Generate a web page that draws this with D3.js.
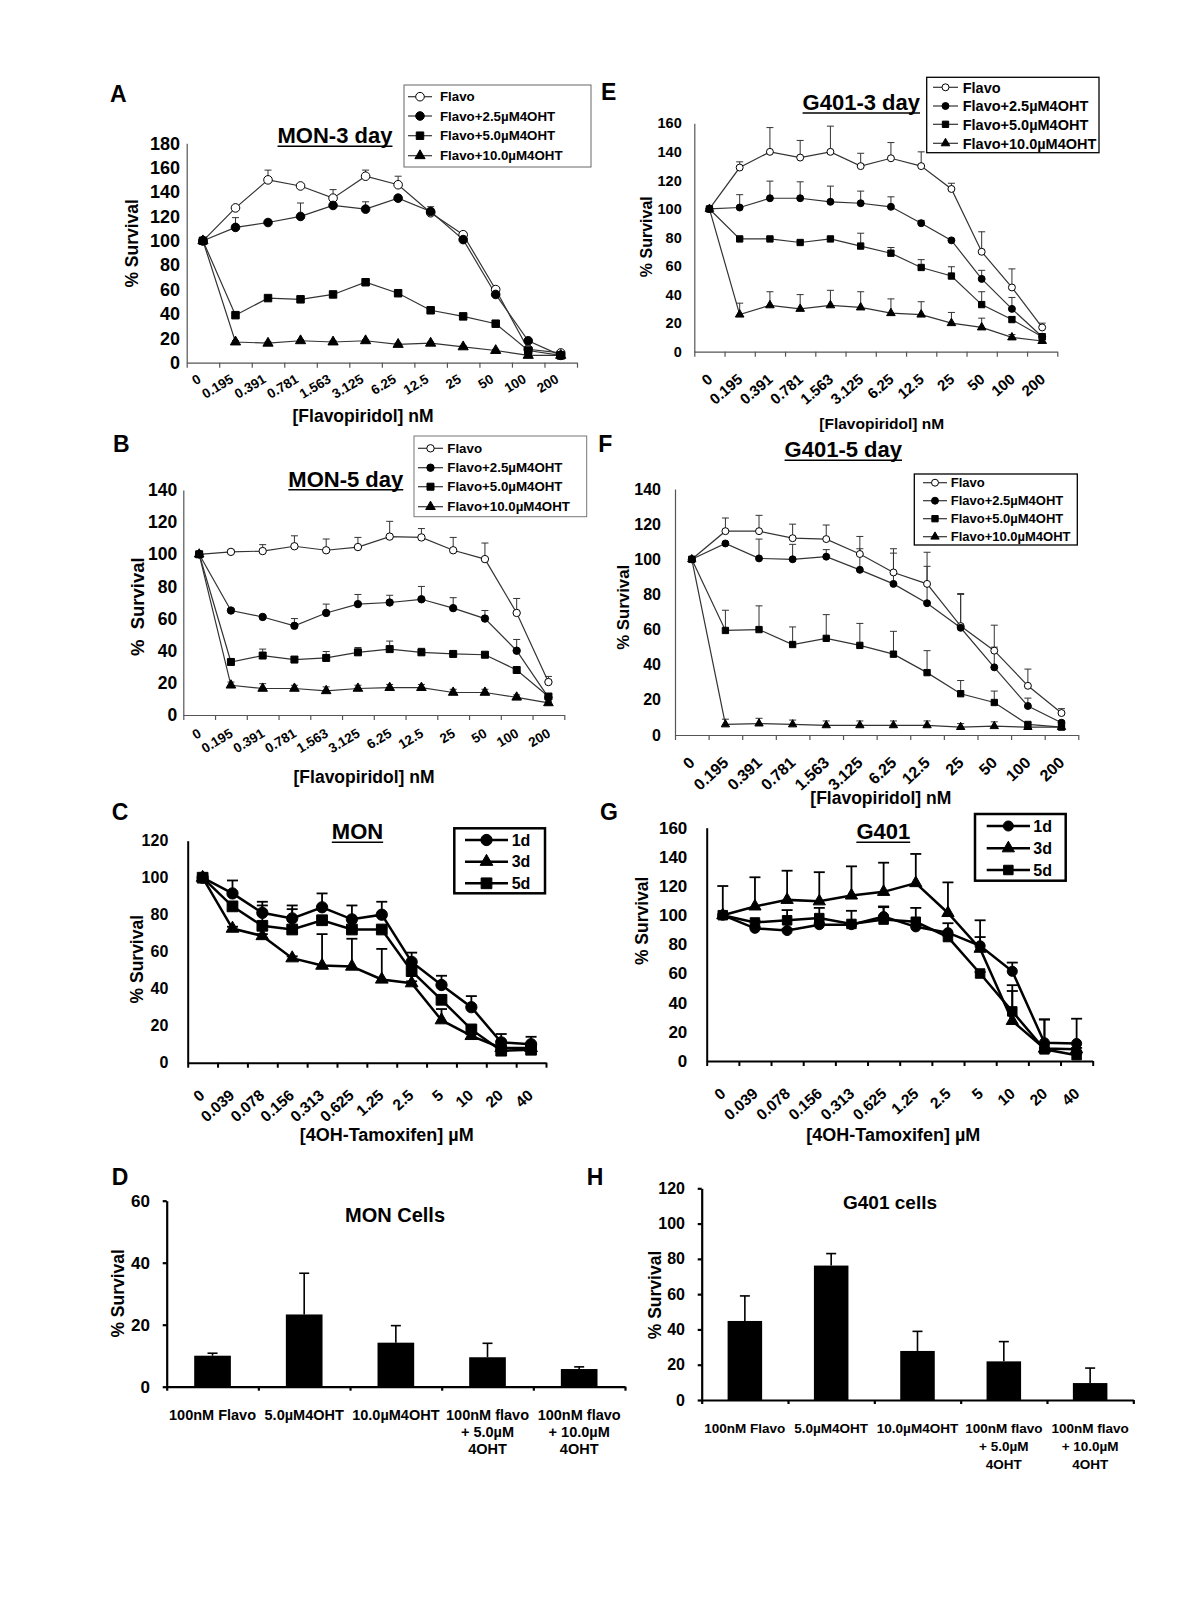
<!DOCTYPE html>
<html><head><meta charset="utf-8">
<script src="https://cdn.jsdelivr.net/npm/d3@7"></script>
<style>
html,body{margin:0;padding:0;background:#fff;}
svg{display:block;}
</style></head><body>
<svg id="fig" width="1200" height="1600"></svg>
<script>
// ---------------- DATA ----------------
const flavoDoses = ["0","0.195","0.391","0.781","1.563","3.125","6.25","12.5","25","50","100","200"];
const tamDoses = ["0","0.039","0.078","0.156","0.313","0.625","1.25","2.5","5","10","20","40"];
const flavoSeriesNames = ["Flavo","Flavo+2.5µM4OHT","Flavo+5.0µM4OHT","Flavo+10.0µM4OHT"];
const flavoSeriesMarks = ["openCircle","circle","square","triangle"];
const daySeriesNames = ["1d","3d","5d"];
const daySeriesMarks = ["circle","triangle","square"];
const yTickStep = 20;

// A: MON 3 day
const monD3Flavo     = [100,127,150,145,135,153,146,123,105,60,11,8];
const monD3FlavoErr  = [0,2,8,2,7,5,7,3,2,2,2,1];
const monD3F25       = [100,111,115,120,129,126,135,124,101,56,18,6];
const monD3F25Err    = [0,8,2,11,2,6,2,4,1,1,1,1];
const monD3F50       = [100,39,53,52,56,66,57,43,38,32,10,6];
const monD3F50Err    = [0,2,2,2,2,2,2,1,1,1,1,1];
const monD3F100      = [100,17,16,18,17,18,15,16,13,10,6,6];
const monD3F100Err   = [0,1,1,1,1,1,1,1,1,1,1,1];

// E: G401 3 day
const g4D3Flavo    = [100,129,140,136,140,130,135.5,130,114,70,45,17];
const g4D3FlavoErr = [0,4,17,12,18,9,11,10,4,14,13,3];
const g4D3F25      = [100,101,107.5,107.5,105,104,101.5,90,78,51,30,10.5];
const g4D3F25Err   = [0,9,12,11.5,11,8.5,7,2,1,6,8,2];
const g4D3F50      = [100,79,79,76.5,79,74,69,59,53,33,22.5,10.5];
const g4D3F50Err   = [0,1,1,1,1,9,4,5.5,6.5,9,2,1];
const g4D3F100     = [100,26,32.5,30,32.5,31,27,26,20,17,10,7.5];
const g4D3F100Err  = [0,8,9.5,10,10.5,11,10,9,7.5,6.5,2,1];

// B: MON 5 day
const monD5Flavo    = [100,101.5,102,105,102.5,104.5,111,110.5,102.5,97,63.5,20.5];
const monD5FlavoErr = [0,1,4,6.5,7,6,9.5,5.5,8,10,9,3.5];
const monD5F25      = [100,65,61,55.5,63.5,69,70,72,66.5,60,40,11];
const monD5F25Err   = [0,1,1,4.5,5.5,6,4.5,8,6.5,5,7,1];
const monD5F50      = [100,33,37,34.5,35.5,39,41,39,38,37.5,28,11.5];
const monD5F50Err   = [0,1,4,1,4,3,5,2.5,1,1,1,1];
const monD5F100     = [100,18.5,16.5,16.5,15,16.5,17,17,14,14,11,7.5];
const monD5F100Err  = [0,2,3,2,2.5,2,2,2,2,2,1.5,1];

// F: G401 5 day
const g4D5Flavo    = [100,116,116,112,111.5,103,92.5,86,62,48,28,12.5];
const g4D5FlavoErr = [0,7.5,9,8,8,10,13.5,18,18,14.5,9.5,2.5];
const g4D5F25      = [100,109,100.5,100,101.5,94,86,75,61,38.5,16.5,7];
const g4D5F25Err   = [0,0,11,8.5,4,12,17.5,21,19.5,11.5,4.5,1];
const g4D5F50      = [100,59.5,60,51.5,55,51,46,35.5,23.5,18.5,6,4.5];
const g4D5F50Err   = [0,11.5,13.5,10,13.5,12.5,13,12.5,7.5,6.5,1,0.5];
const g4D5F100     = [100,6,6.5,6,5.5,5.5,5.5,5.5,4.5,5,4.5,4.5];
const g4D5F100Err  = [0,3,3,2.5,2.5,2.5,2.5,2.5,2,2.5,1,1];

// C: MON tamoxifen
const monTam1d    = [100,91.5,81,78,84,77.5,80,54.5,42,30,11,10];
const monTam1dErr = [0,7,6,7,7.5,7.5,7,5,5,6,4.5,4];
const monTam3d    = [100,72.5,68.5,56.5,52.5,52,45,43,23,14.5,8,8];
const monTam3dErr = [0,1,1,1,17,15,16.5,1,6,1,1,1];
const monTam5d    = [100,84.5,74,72,77,72,72,49.5,34,18,6.5,7];
const monTam5dErr = [0,1,11,11,1,1,1,1,1,1,1,1];

// G: G401 tamoxifen
const g4Tam1d    = [100,91,89.5,93.5,93.5,99,92,88,79,61.5,12.5,12];
const g4Tam1dErr = [0,1,1,1,1,7,1,6.5,6,6,16,17];
const g4Tam3d    = [100,106,110.5,109.5,113.5,116,122,101.5,77,27.5,8.5,8];
const g4Tam3dErr = [20,20,20,20,20,20,20,21,19.5,20.5,20,1];
const g4Tam5d    = [100,95,96.5,98,94,97,95.5,85,60,34,8,4];
const g4Tam5dErr = [0,1,7,7,9,8.5,9.5,1,1,18,1,1];

// D / H: single treatments
const barCategories = [["100nM Flavo"],["5.0µM4OHT"],["10.0µM4OHT"],["100nM flavo","+ 5.0µM","4OHT"],["100nM flavo","+ 10.0µM","4OHT"]];
const monCellsVals = [10,23.3,14.2,9.5,5.7];
const monCellsErr  = [0.8,13.3,5.5,4.5,0.7];
const g401CellsVals = [44.8,76.2,27.8,21.9,9.6];
const g401CellsErr  = [14.2,6.8,11.1,11.2,8.5];

// ---------------- DRAWING ----------------
const FONT = '"Liberation Sans", Arial, Helvetica, sans-serif';
const svg = d3.select("#fig");

function txt(g, s, x, y, size, anchor) {
  return g.append("text").attr("x", x).attr("y", y).attr("font-size", size)
    .attr("font-family", FONT).attr("font-weight", "bold").attr("fill", "#000")
    .attr("text-anchor", anchor || "start").text(s);
}

function symbolPath(type, sizes) {
  const t = type === "square" ? d3.symbolSquare : type === "triangle" ? d3.symbolTriangle : d3.symbolCircle;
  const key = type === "openCircle" ? "circle" : type;
  return d3.symbol().type(t).size(sizes[key])();
}

function styleAxis(a, c, fontSize) {
  a.attr("font-family", null).attr("font-size", null);
  a.selectAll("path,line").attr("stroke", c.axisColor).attr("stroke-width", c.axisW);
  a.selectAll("text").attr("font-size", fontSize).attr("font-family", FONT)
    .attr("font-weight", "bold").attr("fill", "#000");
}

function yTitle(g, s, x, y, size) {
  g.append("text").attr("transform", `translate(${x},${y}) rotate(-90)`)
    .attr("text-anchor", "middle").attr("dy", "0.35em")
    .attr("font-size", size).attr("font-family", FONT).attr("font-weight", "bold").text(s);
}

function underlinedTitle(g, s, x, y, size, uw) {
  const t = txt(g, s, x, y, size, "middle");
  const w = t.node().getComputedTextLength();
  g.append("line").attr("x1", x - w / 2).attr("x2", x + w / 2)
    .attr("y1", y + 3).attr("y2", y + 3).attr("stroke", "#000").attr("stroke-width", uw || 1.6);
}

function linePanel(c) {
  const g = svg.append("g");
  const x = d3.scaleBand().domain(c.cats).range([c.x0, c.x1]);
  const cx = d => x(d) + x.bandwidth() / 2;
  const y = d3.scaleLinear().domain([0, c.yMax]).range([c.y0, c.yTop]);

  const ya = g.append("g").attr("transform", `translate(${c.x0},0)`)
    .call(d3.axisLeft(y).tickValues(d3.range(0, c.yMax + 0.001, yTickStep))
      .tickSizeInner(c.yTickLen).tickSizeOuter(0).tickPadding(c.x0 - c.yLabelRight - c.yTickLen));
  styleAxis(ya, c, c.yFont);
  const xi = d3.scaleLinear().domain([0, c.cats.length]).range([c.x0, c.x1]);
  const xa = g.append("g").attr("transform", `translate(0,${c.y0})`)
    .call(d3.axisBottom(xi).tickValues(d3.range(0, c.cats.length + 1)).tickFormat("")
      .tickSizeInner(c.xTickLen).tickSizeOuter(0));
  styleAxis(xa, c, 10);
  g.selectAll(null).data(c.cats).join("text")
    .attr("transform", d => `translate(${cx(d) + c.xDx},${c.y0 + c.xDy}) rotate(${c.xAngle})`)
    .attr("text-anchor", "end").attr("font-size", c.xFont).attr("font-family", FONT)
    .attr("font-weight", "bold").text(d => d);

  c.series.forEach(s => {
    s.vals.forEach((v, i) => {
      const e = s.errs[i];
      if (!e) return;
      const px = cx(c.cats[i]);
      g.append("line").attr("x1", px).attr("x2", px).attr("y1", y(v)).attr("y2", y(v + e))
        .attr("stroke", c.lineColor).attr("stroke-width", c.errW);
      g.append("line").attr("x1", px - c.capW / 2).attr("x2", px + c.capW / 2)
        .attr("y1", y(v + e)).attr("y2", y(v + e))
        .attr("stroke", c.lineColor).attr("stroke-width", c.errW);
    });
  });
  const line = d3.line().x((v, i) => cx(c.cats[i])).y(v => y(v));
  c.series.forEach(s => {
    g.append("path").attr("d", line(s.vals)).attr("fill", "none")
      .attr("stroke", c.lineColor).attr("stroke-width", c.lineW);
  });
  c.series.forEach(s => {
    g.selectAll(null).data(s.vals).join("path")
      .attr("transform", (v, i) => `translate(${cx(c.cats[i])},${y(v)})`)
      .attr("d", symbolPath(s.mark, c.sizes))
      .attr("fill", s.mark === "openCircle" ? "#fff" : "#000")
      .attr("stroke", "#000").attr("stroke-width", c.markSW);
  });

  const L = c.legend;
  g.append("rect").attr("x", L.x).attr("y", L.y).attr("width", L.w).attr("height", L.h)
    .attr("fill", "#fff").attr("stroke", L.stroke).attr("stroke-width", L.sw);
  c.series.forEach((s, i) => {
    const ry = L.rowY[i];
    g.append("line").attr("x1", L.lx0).attr("x2", L.lx1).attr("y1", ry).attr("y2", ry)
      .attr("stroke", c.lineColor).attr("stroke-width", c.lineW);
    g.append("path").attr("transform", `translate(${(L.lx0 + L.lx1) / 2},${ry})`)
      .attr("d", symbolPath(s.mark, c.sizes))
      .attr("fill", s.mark === "openCircle" ? "#fff" : "#000")
      .attr("stroke", "#000").attr("stroke-width", c.markSW);
    txt(g, s.name, L.tx, ry, L.font).attr("dy", "0.36em");
  });

  txt(g, c.label, c.labelX, c.labelY, 23);
  underlinedTitle(g, c.title, c.titleX, c.titleY, c.titleFont);
  yTitle(g, c.yTitle, c.yTitleX, c.yTitleY, c.yTitleFont);
  txt(g, c.xTitle, c.xTitleX, c.xTitleY, c.xTitleFont, "middle");
}

function barPanel(c) {
  const g = svg.append("g");
  const keys = c.cats.map((d, i) => i);
  const x = d3.scaleBand().domain(keys).range([c.x0, c.x1]);
  const y = d3.scaleLinear().domain([0, c.yMax]).range([c.y0, c.yTop]);
  const ya = g.append("g").attr("transform", `translate(${c.x0},0)`)
    .call(d3.axisLeft(y).tickValues(d3.range(0, c.yMax + 0.001, yTickStep))
      .tickSizeInner(c.yTickLen).tickSizeOuter(0).tickPadding(c.x0 - c.yLabelRight - c.yTickLen));
  styleAxis(ya, c, c.yFont);
  const xi = d3.scaleLinear().domain([0, keys.length]).range([c.x0, c.x1]);
  const xa = g.append("g").attr("transform", `translate(0,${c.y0})`)
    .call(d3.axisBottom(xi).tickValues(d3.range(0, keys.length + 1)).tickFormat("")
      .tickSizeInner(c.xTickLen).tickSizeOuter(0));
  styleAxis(xa, c, 10);

  const bw = x.bandwidth() * c.barFrac;
  keys.forEach(i => {
    const mx = x(i) + x.bandwidth() / 2;
    const v = c.vals[i], e = c.errs[i];
    g.append("line").attr("x1", mx).attr("x2", mx).attr("y1", y(v)).attr("y2", y(v + e))
      .attr("stroke", "#000").attr("stroke-width", 1.6);
    g.append("line").attr("x1", mx - c.capW / 2).attr("x2", mx + c.capW / 2)
      .attr("y1", y(v + e)).attr("y2", y(v + e)).attr("stroke", "#000").attr("stroke-width", 1.6);
    g.append("rect").attr("x", mx - bw / 2).attr("y", y(v)).attr("width", bw)
      .attr("height", y(0) - y(v)).attr("fill", "#000");
    c.cats[i].forEach((ln, j) => txt(g, ln, mx, c.catY[j], c.catFont, "middle"));
  });

  txt(g, c.label, c.labelX, c.labelY, 23);
  txt(g, c.title, c.titleX, c.titleY, c.titleFont, "middle");
  yTitle(g, c.yTitle, c.yTitleX, c.yTitleY, c.yTitleFont);
}

function mkSeries(names, marks, vals, errs) {
  return names.map((n, i) => ({ name: n, mark: marks[i], vals: vals[i], errs: errs[i] }));
}

const thinStyle = { axisColor: "#555", axisW: 1.2, lineColor: "#333", lineW: 1.2, errW: 1, capW: 7, markSW: 1, yTickLen: 0, xTickLen: 5 };
const thickStyle = { axisColor: "#000", axisW: 2, lineColor: "#000", lineW: 2.5, errW: 1.8, capW: 11, markSW: 1, yTickLen: 0, xTickLen: 5 };

// A
linePanel(Object.assign({}, thinStyle, {
  label: "A", labelX: 110, labelY: 102,
  cats: flavoDoses,
  series: mkSeries(flavoSeriesNames, flavoSeriesMarks,
    [monD3Flavo, monD3F25, monD3F50, monD3F100], [monD3FlavoErr, monD3F25Err, monD3F50Err, monD3F100Err]),
  yMax: 180, x0: 186.7, x1: 577, y0: 362.7, yTop: 143.3,
  yFont: 18, yLabelRight: 180,
  xFont: 13.5, xDx: -1, xDy: 19, xAngle: -31,
  sizes: { circle: 58, square: 56, triangle: 45 },
  title: "MON-3 day", titleX: 335, titleY: 143.3, titleFont: 22,
  legend: { x: 404, y: 85, w: 187, h: 82, rowY: [96.7, 116, 135.7, 155.7], lx0: 408, lx1: 432, tx: 440, font: 13.3, stroke: "#666", sw: 1 },
  yTitle: "% Survival", yTitleX: 131.7, yTitleY: 243.3, yTitleFont: 17.5,
  xTitle: "[Flavopiridol] nM", xTitleX: 363, xTitleY: 422, xTitleFont: 17.5
}));

// E
linePanel(Object.assign({}, thinStyle, {
  label: "E", labelX: 601, labelY: 100,
  cats: flavoDoses,
  series: mkSeries(flavoSeriesNames, flavoSeriesMarks,
    [g4D3Flavo, g4D3F25, g4D3F50, g4D3F100], [g4D3FlavoErr, g4D3F25Err, g4D3F50Err, g4D3F100Err]),
  yMax: 160, x0: 694.3, x1: 1057.3, y0: 351.7, yTop: 123.3,
  yFont: 14.5, yLabelRight: 681.7,
  xFont: 15, xDx: 4, xDy: 29, xAngle: -41,
  sizes: { circle: 38, square: 40, triangle: 32 },
  title: "G401-3 day", titleX: 861.3, titleY: 110, titleFont: 22,
  legend: { x: 926.7, y: 77.3, w: 172.3, h: 75.4, rowY: [87.3, 106, 124.3, 143.3], lx0: 933, lx1: 958, tx: 962.7, font: 14.5, stroke: "#000", sw: 1.3 },
  yTitle: "% Survival", yTitleX: 646.7, yTitleY: 236.7, yTitleFont: 16,
  xTitle: "[Flavopiridol] nM", xTitleX: 881.7, xTitleY: 428.7, xTitleFont: 15.5
}));

// B
linePanel(Object.assign({}, thinStyle, {
  label: "B", labelX: 113, labelY: 452,
  cats: flavoDoses,
  series: mkSeries(flavoSeriesNames, flavoSeriesMarks,
    [monD5Flavo, monD5F25, monD5F50, monD5F100], [monD5FlavoErr, monD5F25Err, monD5F50Err, monD5F100Err]),
  yMax: 140, x0: 183.3, x1: 564.3, y0: 715, yTop: 490,
  yFont: 17.5, yLabelRight: 177.3,
  xFont: 13.5, xDx: 3, xDy: 21, xAngle: -31,
  sizes: { circle: 43, square: 49, triangle: 40 },
  title: "MON-5 day", titleX: 345.8, titleY: 486.7, titleFont: 22,
  legend: { x: 414, y: 436, w: 172.7, h: 80.7, rowY: [448.3, 467.7, 486.7, 506.7], lx0: 418, lx1: 443, tx: 447.3, font: 13.3, stroke: "#777", sw: 1 },
  yTitle: "%\u00a0\u00a0Survival", yTitleX: 138, yTitleY: 606.7, yTitleFont: 18.5,
  xTitle: "[Flavopiridol] nM", xTitleX: 364, xTitleY: 782.5, xTitleFont: 17.5
}));

// F
linePanel(Object.assign({}, thinStyle, {
  label: "F", labelX: 598.3, labelY: 452,
  cats: flavoDoses,
  series: mkSeries(flavoSeriesNames, flavoSeriesMarks,
    [g4D5Flavo, g4D5F25, g4D5F50, g4D5F100], [g4D5FlavoErr, g4D5F25Err, g4D5F50Err, g4D5F100Err]),
  yMax: 140, x0: 675, x1: 1078.3, y0: 735, yTop: 489,
  yFont: 16, yLabelRight: 661,
  xFont: 16, xDx: 4, xDy: 29, xAngle: -43,
  sizes: { circle: 38, square: 40, triangle: 30 },
  title: "G401-5 day", titleX: 843.3, titleY: 457.3, titleFont: 22,
  legend: { x: 914.3, y: 474, w: 163, h: 71, rowY: [482.7, 500.7, 518.7, 536.7], lx0: 923, lx1: 947, tx: 950.7, font: 13, stroke: "#000", sw: 1.3 },
  yTitle: "% Survival", yTitleX: 623.3, yTitleY: 607.3, yTitleFont: 16.8,
  xTitle: "[Flavopiridol] nM", xTitleX: 880.8, xTitleY: 804, xTitleFont: 17.5
}));

// C
linePanel(Object.assign({}, thickStyle, {
  label: "C", labelX: 111.7, labelY: 820,
  cats: tamDoses,
  series: mkSeries(daySeriesNames, daySeriesMarks,
    [monTam1d, monTam3d, monTam5d], [monTam1dErr, monTam3dErr, monTam5dErr]),
  yMax: 120, x0: 187.7, x1: 546, y0: 1062.7, yTop: 840.7,
  yFont: 16, yLabelRight: 168.3,
  xFont: 15.5, xDx: 3, xDy: 34, xAngle: -42,
  sizes: { circle: 100, square: 115, triangle: 70 },
  title: "MON", titleX: 357.5, titleY: 839.3, titleFont: 22,
  legend: { x: 454.3, y: 828.3, w: 90.7, h: 65, rowY: [840, 861.7, 883.3], lx0: 465, lx1: 508, tx: 511.7, font: 16, stroke: "#000", sw: 2.5 },
  yTitle: "% Survival", yTitleX: 136.7, yTitleY: 959.2, yTitleFont: 17.5,
  xTitle: "[4OH-Tamoxifen] µM", xTitleX: 386.7, xTitleY: 1141, xTitleFont: 18
}));

// G
linePanel(Object.assign({}, thickStyle, {
  label: "G", labelX: 600, labelY: 820,
  cats: tamDoses,
  series: mkSeries(daySeriesNames, daySeriesMarks,
    [g4Tam1d, g4Tam3d, g4Tam5d], [g4Tam1dErr, g4Tam3dErr, g4Tam5dErr]),
  yMax: 160, x0: 706.7, x1: 1092.7, y0: 1061, yTop: 827.7,
  yFont: 17, yLabelRight: 687.3,
  xFont: 15.5, xDx: 4, xDy: 34, xAngle: -42,
  sizes: { circle: 80, square: 90, triangle: 65 },
  title: "G401", titleX: 883.3, titleY: 839.3, titleFont: 22,
  legend: { x: 975, y: 814, w: 90.7, h: 66.7, rowY: [826, 848.3, 870], lx0: 986.7, lx1: 1030, tx: 1033.3, font: 16, stroke: "#000", sw: 2.5 },
  yTitle: "% Survival", yTitleX: 641.7, yTitleY: 920.8, yTitleFont: 17.5,
  xTitle: "[4OH-Tamoxifen] µM", xTitleX: 893.3, xTitleY: 1141, xTitleFont: 18
}));

// D
barPanel({
  axisColor: "#000", axisW: 2.2, yTickLen: 4, xTickLen: 4, capW: 10, barFrac: 0.4,
  label: "D", labelX: 111.7, labelY: 1185,
  cats: barCategories, vals: monCellsVals, errs: monCellsErr,
  yMax: 60, x0: 166.7, x1: 625, y0: 1386.7, yTop: 1200.7,
  yFont: 17, yLabelRight: 150,
  title: "MON Cells", titleX: 395, titleY: 1221.7, titleFont: 20,
  catY: [1420, 1437, 1454], catFont: 14.5,
  yTitle: "% Survival", yTitleX: 118.3, yTitleY: 1293.3, yTitleFont: 17.5
});

// H
barPanel({
  axisColor: "#000", axisW: 2.2, yTickLen: 4, xTickLen: 4, capW: 10, barFrac: 0.4,
  label: "H", labelX: 586.7, labelY: 1185,
  cats: barCategories, vals: g401CellsVals, errs: g401CellsErr,
  yMax: 120, x0: 701.7, x1: 1133.3, y0: 1400, yTop: 1188.3,
  yFont: 16, yLabelRight: 685,
  title: "G401 cells", titleX: 890, titleY: 1209.3, titleFont: 19,
  catY: [1433, 1451, 1469], catFont: 13.5,
  yTitle: "% Survival", yTitleX: 655, yTitleY: 1295, yTitleFont: 17.5
});
</script>
</body></html>
